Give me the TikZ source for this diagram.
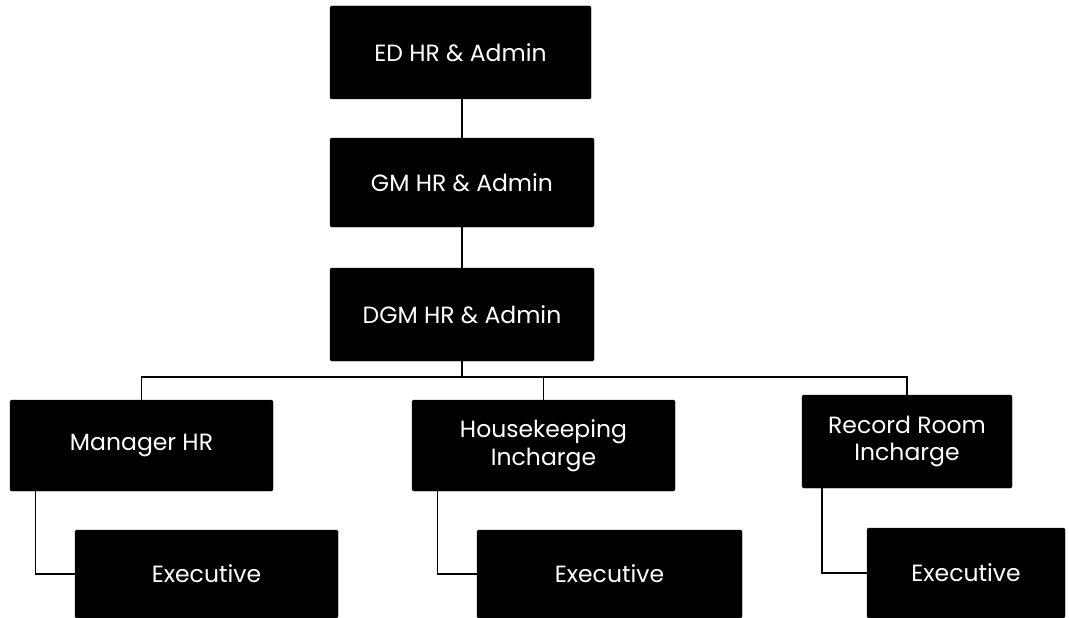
\documentclass[tikz,border=0pt]{standalone}
\usepackage{fontspec}
\setmainfont{Poppins}
\begin{document}
\begin{tikzpicture}[x=1pt,y=-1pt,
  post/.style={fill=black,draw=black,rounded corners=1.5pt,text=white,
    font=\fontsize{23.5}{27.5}\selectfont,align=center,inner sep=0pt},
  link/.style={draw=black,line width=1.4pt}]
\useasboundingbox (0,0) rectangle (1069,618);

% top chain
\node[post,minimum width=261pt,minimum height=93pt] (ed)  at (460.5,52.5)  {ED HR \& Admin};
\node[post,minimum width=264pt,minimum height=89pt] (gm)  at (462,182.5)   {GM HR \& Admin};
\node[post,minimum width=264pt,minimum height=93pt] (dgm) at (462,314.5)   {DGM HR \& Admin};

% second level
\node[post,minimum width=263pt,minimum height=91pt] (mhr) at (141.5,445.5) {Manager HR};
\node[post,minimum width=263pt,minimum height=91pt] (hk)  at (543.5,445.5) {Housekeeping\\Incharge};
\node[post,minimum width=210pt,minimum height=93pt] (rr)  at (907,441.5)   {Record Room\\Incharge};

% executives
\node[post,minimum width=263pt,minimum height=88pt] (e1) at (206.5,574) {Executive};
\node[post,minimum width=265pt,minimum height=88pt] (e2) at (609.5,574) {Executive};
\node[post,minimum width=198pt,minimum height=90pt] (e3) at (966,573)   {Executive};

\coordinate (bus) at (0,377);

\draw[link] (ed.south -| gm.north) -- (gm.north);
\draw[link] (gm.south) -- (dgm.north);
\draw[link] (dgm.south) -- (dgm.south |- bus);
\draw[link] (mhr.north) -- (mhr.north |- bus) -- (rr.north |- bus) -- (rr.north);
\draw[link] (hk.north) -- (hk.north |- bus);

\draw[link] ([xshift=-106pt]mhr.south) |- (e1.west);
\draw[link] ([xshift=-106pt]hk.south) |- (e2.west);
\draw[link] ([xshift=-85pt]rr.south) |- (e3.west);
\end{tikzpicture}
\end{document}
